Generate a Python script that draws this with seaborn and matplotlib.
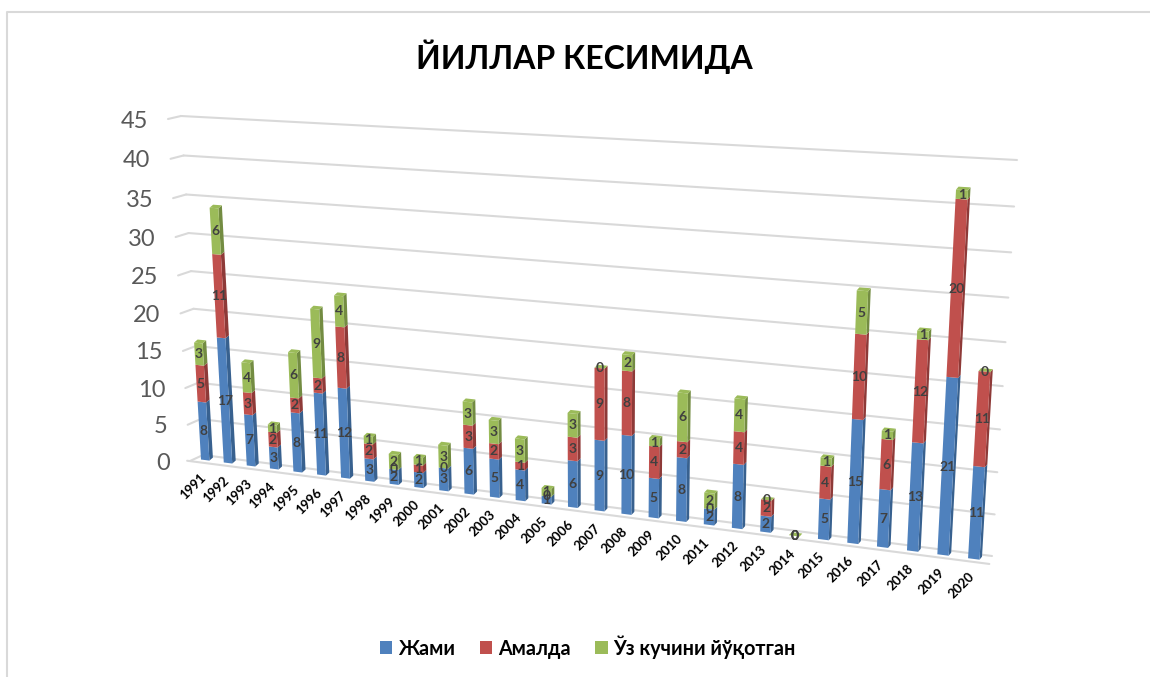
import numpy as np
import matplotlib
matplotlib.use("Agg")
import matplotlib.pyplot as plt
import seaborn as sns
from matplotlib.patches import Polygon
from matplotlib.transforms import Affine2D, IdentityTransform, Transform

# Values
years = [str(y) for y in range(1991, 2021)]
jami = [8, 17, 7, 3, 8, 11, 12, 3, 2, 2, 3, 6, 5, 4, 1, 6, 9, 10, 5, 8, 2, 8, 2, 0, 5, 15, 7, 13, 21, 11]
amalda = [5, 11, 3, 2, 2, 2, 8, 2, 0, 1, 0, 3, 2, 1, 0, 3, 9, 8, 4, 2, 0, 4, 2, 0, 4, 10, 6, 12, 20, 11]
yoqotgan = [3, 6, 4, 1, 6, 9, 4, 1, 2, 1, 3, 3, 3, 3, 1, 3, 0, 2, 1, 6, 2, 4, 0, 0, 1, 5, 1, 1, 1, 0]
y_ticks = [0, 5, 10, 15, 20, 25, 30, 35, 40, 45]
series_names = ["Жами", "Амалда", "Ўз кучини йўқотган"]
colors = ["#4F81BD", "#C0504D", "#9BBB59"]
side_colors = ["#38618F", "#8E3A38", "#738C42"]

W, H = 1150, 677
BAR_W = 0.37


class Persp(Transform):
    # projective map from (x, value) to display pixels, fitted on 4 anchors
    input_dims = 2
    output_dims = 2
    is_separable = False
    has_inverse = False

    def __init__(self, src, dst):
        super().__init__()
        A, b = [], []
        for (x, y), (u, v) in zip(src, dst):
            A.append([x, y, 1, 0, 0, 0, -u * x, -u * y])
            A.append([0, 0, 0, x, y, 1, -v * x, -v * y])
            b += [u, v]
        self.m = np.append(np.linalg.solve(np.array(A, float), np.array(b, float)), 1).reshape(3, 3)

    def transform_non_affine(self, values):
        pts = np.asarray(values, float)
        p = np.column_stack([pts, np.ones(len(pts))]) @ self.m.T
        return np.column_stack([p[:, 0] / p[:, 2], H - p[:, 1] / p[:, 2]])


# bars stand on the floor, the gridlines are on the back wall
bars_tf = Persp([(1, 0), (1, 34), (28, 0), (28, 42)],
                [(228, 463), (214, 208), (943, 555), (962, 190)])
wall_tf = Persp([(0, 0), (0, 45), (1, 0), (1, 45)],
                [(203, 455), (181, 116), (992, 556), (1017, 160)])

sns.set_theme(style="white")
plt.rcParams["font.family"] = ["Lato", "Open Sans", "DejaVu Sans"]

fig = plt.figure(figsize=(W / 100, H / 100), dpi=100)
ax = fig.add_axes([0, 0, 1, 1])

# Stacked bars
bottom = np.zeros(len(years))
stacks = []
for vals, name, c in zip([jami, amalda, yoqotgan], series_names, colors):
    sns.barplot(x=years, y=vals, bottom=bottom, color=c, saturation=1, width=BAR_W,
                label=name, errorbar=None, legend=False, ax=ax, linewidth=0)
    stacks.append(bottom.copy())
    bottom = bottom + np.array(vals)

handles = list(ax.containers)
for k, cont in enumerate(handles):
    vals = [jami, amalda, yoqotgan][k]
    for i, rect in enumerate(cont.patches):
        rect.set_transform(bars_tf)
        rect.set_clip_on(False)
        rect.set_zorder(3)
        x0, y0 = rect.get_x(), rect.get_y()
        x1, y1 = x0 + rect.get_width(), y0 + rect.get_height()
        dx = 3.5 - 1.0 * i / 29
        dy = 3.0
        q = bars_tf.transform(np.array([(x0, y1), (x1, y1), (x1, y0)]))
        tl, tr, br = q[0], q[1], q[2]
        off = np.array([dx, dy])
        # side of the bar
        if vals[i] > 0:
            ax.add_patch(Polygon([br, br + off, tr + off, tr], closed=True, transform=IdentityTransform(),
                                 facecolor=side_colors[k], edgecolor="none", clip_on=False, zorder=2.5))
        # cap on the very top
        if k == 2:
            ax.add_patch(Polygon([tl, tr, tr + off, tl + off], closed=True, transform=IdentityTransform(),
                                 facecolor=colors[2], edgecolor="none", clip_on=False, zorder=2.6))
        ax.text(i, stacks[k][i] + vals[i] / 2, str(vals[i]), transform=bars_tf, ha="center", va="center",
                fontsize=10, fontweight="bold", color="#404040", zorder=5, clip_on=False)

# Gridlines
grid_c = "#D9D9D9"
for v in y_ticks:
    ax.plot([0, 1], [v, v], transform=wall_tf, color=grid_c, lw=1.5, zorder=1, clip_on=False)
    corner = wall_tf.transform(np.array([(0, v)]))[0]
    side_end = corner + np.array([-13, -(3 + 3 * (1 - v / 45))])
    ax.plot([corner[0], side_end[0]], [corner[1], side_end[1]], transform=IdentityTransform(),
            color=grid_c, lw=1.5, zorder=1, clip_on=False)
    ax.text(side_end[0] - 20, side_end[1] - 2, str(v), transform=IdentityTransform(), ha="right", va="center",
            fontsize=17, color="#595959")
# front edge of floor
floor_tf = bars_tf + Affine2D().translate(0, -3)
ax.plot([-0.8, 29.5], [0, 0], transform=floor_tf, color=grid_c, lw=1.5, zorder=1, clip_on=False)

# Year labels under the bars
year_tf = bars_tf + Affine2D().translate(-12, -26)
for i, yr in enumerate(years):
    ax.text(i, 0, yr, transform=year_tf, rotation=45, ha="center", va="center", rotation_mode="anchor",
            fontsize=9.5, fontweight="bold", color="black")

ax.set_axis_off()

# chart frame, only top and left show
fig.add_artist(plt.Line2D([7 / W, 7 / W, 1], [0, 1 - 12 / H, 1 - 12 / H], color=grid_c, lw=1.5))

fig.text(584 / W, 1 - 57 / H, "ЙИЛЛАР КЕСИМИДА", ha="center", va="center", fontsize=23,
         fontweight="bold", color="black")

leg_handles = [h.patches[0] for h in handles]
fig.legend(leg_handles, series_names, loc="center", bbox_to_anchor=(588 / W, 1 - 647 / H), ncol=3, frameon=False,
           prop={"weight": "bold", "size": 14.2}, labelcolor="black", handlelength=0.62, handleheight=0.62,
           handletextpad=0.3, columnspacing=1.25)

fig.savefig("out.png", dpi=100)
